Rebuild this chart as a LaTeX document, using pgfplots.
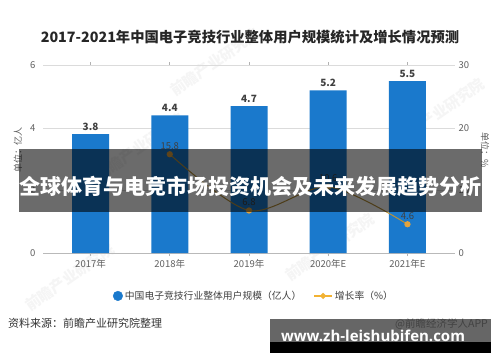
\documentclass[border=0pt]{standalone}
\usepackage{fontspec}
\setmainfont{Noto Sans CJK SC}
\newfontfamily\webfont{Open Sans}
\usepackage{pgfplots}
\pgfplotsset{compat=1.18}
\definecolor{barblue}{HTML}{1A79CC}
\definecolor{linegold}{HTML}{B8913A}
\definecolor{markorange}{HTML}{E2A33E}
\definecolor{legorange}{HTML}{F2B233}
\definecolor{txt}{HTML}{404040}
\definecolor{ticktxt}{HTML}{606060}
\begin{document}
\begin{tikzpicture}[x=1pt,y=1pt]
\useasboundingbox (0,0) rectangle (500,362);
\fill[white] (0,0) rectangle (500,362);
% watermarks
\foreach \px/\py in {70/85, 215/300, 330/115, 440/250, 140/215}{
  \node[rotate=35, text=gray!8, font=\fontsize{15}{15}\selectfont\bfseries] at (\px,\py) {前瞻产业研究院};
}
\node[font=\fontsize{14.3}{15}\selectfont\bfseries, text=black!85] at (250,325) {2017-2021年中国电子竞技行业整体用户规模统计及增长情况预测};

\begin{axis}[
  at={(43pt,109pt)}, anchor=south west, scale only axis,
  width=412pt, height=187.5pt,
  xmin=-0.6, xmax=4.6, ymin=0, ymax=6,
  xtick={0,1,2,3,4},
  xticklabels={2017年,2018年,2019年,2020年E,2021年E},
  ytick={0,2,4,6},
  axis line style={draw=none},
  ymajorgrids, grid style={gray!28, line width=0.6pt},
  tick align=outside, major tick length=3pt,
  xtick style={gray!60, line width=0.6pt},
  ytick style={draw=none},
  tick label style={font=\fontsize{9.5}{10}\selectfont, text=ticktxt},
  yticklabel style={xshift=-1pt},
  /pgf/number format/assume math mode=true,
  clip=false,
]
\draw[gray!55, line width=0.7pt] (rel axis cs:0,0) -- (rel axis cs:1,0);
\addplot[ybar, bar width=37pt, fill=barblue, draw=none,
  nodes near coords,
  every node near coord/.append style={font=\fontsize{10}{10}\selectfont\bfseries, text=txt, yshift=0pt}]
  coordinates {(0,3.8) (1,4.4) (2,4.7) (3,5.2) (4,5.5)};
\end{axis}

\begin{axis}[
  at={(43pt,109pt)}, anchor=south west, scale only axis,
  width=412pt, height=187.5pt,
  xmin=-0.6, xmax=4.6, ymin=0, ymax=30,
  axis x line=none,
  axis y line*=right,
  y axis line style={draw=none},
  ytick={0,10,20,30},
  ytick style={draw=none},
  tick label style={font=\fontsize{9.5}{10}\selectfont, text=ticktxt},
  /pgf/number format/assume math mode=true,
  clip=false,
  legend style={at={(0.512,-0.229)}, anchor=center, draw=none, fill=none,
    legend columns=2, font=\fontsize{9.8}{11}\selectfont, text=txt,
    /tikz/every even column/.append style={column sep=10pt}},
]
\addlegendimage{legend image code/.code={\fill[barblue] (6pt,0) circle (4.8pt);}}
\addlegendentry{中国电子竞技行业整体用户规模（亿人）}
\addplot[linegold, line width=1pt, smooth, mark=*, mark size=2.6pt,
  mark options={fill=markorange, draw=markorange},
  nodes near coords,
  every node near coord/.append style={font=\fontsize{9.5}{10}\selectfont, text=txt, yshift=1pt},
  forget plot]
  coordinates {(1,15.8) (2,6.8) (3,10.6) (4,4.6)};
\addlegendimage{legend image code/.code={\draw[legorange, line width=1.6pt] (0,0) -- (18pt,0); \fill[legorange] (9pt,0) +(0,2.8pt) -- +(2.8pt,0) -- +(0,-2.8pt) -- +(-2.8pt,0) -- cycle;}}
\addlegendentry{增长率（\%）}
\end{axis}

\node[rotate=90, font=\fontsize{9}{9}\selectfont, text=ticktxt] at (18,212) {单位：亿人};
\node[rotate=-90, font=\fontsize{9}{9}\selectfont, text=ticktxt] at (485,212) {单位：\%};

% overlay band
\fill[black, opacity=0.58] (19,150) rectangle (482,213);
\node[font=\fontsize{21}{21}\selectfont\bfseries, text=white] at (250.5,176) {全球体育与电竞市场投资机会及未来发展趋势分析};

% footer
\node[anchor=west, font=\fontsize{11}{11}\selectfont, text=black!80, inner sep=0pt] at (8,39) {资料来源：前瞻产业研究院整理};
\node[anchor=west, font=\fontsize{10.5}{11}\selectfont, text=gray!70, inner sep=0pt] at (395,38) {@前瞻经济学人APP};
\fill[black, opacity=0.6] (270,20) rectangle (491,43);
\fill[black] (270,9) rectangle (491,20);
\node[anchor=base, font=\webfont\fontsize{15}{15}\selectfont\bfseries, text=white, inner sep=0pt] at (373,21) {www.zh-leishubifen.com};
\end{tikzpicture}
\end{document}
